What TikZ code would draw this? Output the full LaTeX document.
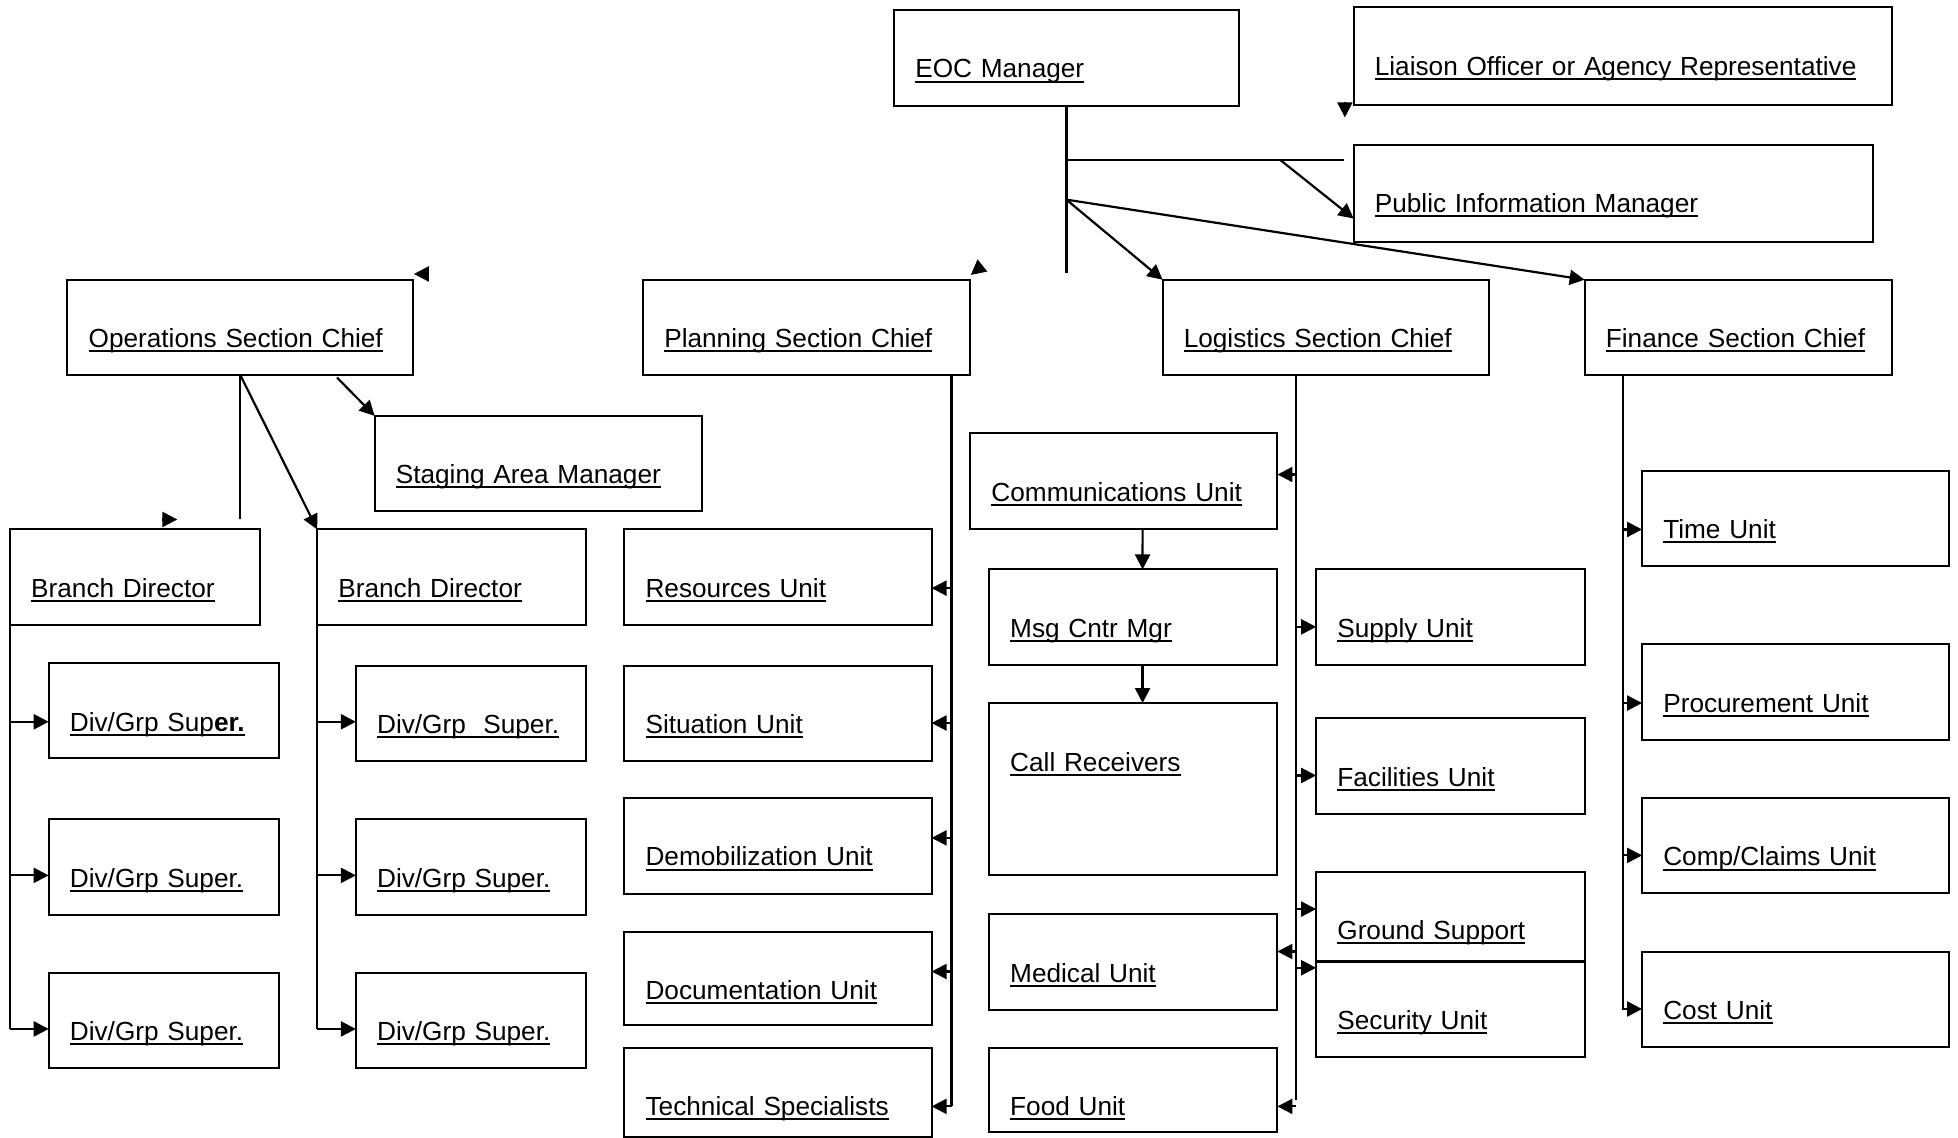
\documentclass[tikz,border=0pt]{standalone}
\usepackage{fontspec}
\setmainfont{Liberation Sans}
\usetikzlibrary{arrows.meta,calc}
\newsavebox{\ulsave}
\newcommand{\uln}[1]{\sbox{\ulsave}{#1}\rlap{\rule[-2.3pt]{\wd\ulsave}{1pt}}\usebox{\ulsave}}
\tikzset{
  orgbox/.style={draw, line width=1pt, anchor=north west, outer sep=0pt, inner xsep=10.6pt, inner ysep=0pt,
    align=left, text height=34pt, text depth=13.7pt, font=\fontsize{13.1pt}{15pt}\selectfont},
  link/.style={line width=1.1pt},
  arr/.style={link, -{Triangle[length=7.5pt,width=7.5pt]}}
}
\begin{document}
\begin{tikzpicture}[x=0.62435pt, y=-0.62435pt]
                \useasboundingbox (0,0) rectangle (1568,911);
                % top
                \node[orgbox, text width=151.1pt, text depth=14pt] (eoc) at (716,8) {\uln{EOC Manager}};
                \node[orgbox, text width=247.9pt, text depth=14.7pt] (liaison) at (1084,6) {\uln{Liaison Officer or Agency Representative}};
                \node[orgbox, text width=238.5pt, text depth=14.7pt] (pim) at (1084,116) {\uln{Public Information Manager}};
                % sections
                \node[orgbox, text width=151.7pt] (ops) at (54,224) {\uln{Operations Section Chief}};
                \node[orgbox, text width=142.4pt] (plan) at (515,224) {\uln{Planning Section Chief}};
                \node[orgbox, text width=141.8pt] (log) at (931,224) {\uln{Logistics Section Chief}};
                \node[orgbox, text width=132.4pt] (fin) at (1269,224) {\uln{Finance Section Chief}};
                % operations
                \node[orgbox, text width=142.4pt] (staging) at (300,333) {\uln{Staging Area Manager}};
                \node[orgbox, text width=103.7pt] (bd1) at (8,424) {\uln{Branch Director}};
                \node[orgbox, text width=113pt] (bd2) at (254,424) {\uln{Branch Director}};
                \node[orgbox, text width=93.7pt] (dg1a) at (39,531) {\uln{Div/Grp Sup\textbf{er.}}};
                \node[orgbox, text width=93.7pt] (dg1b) at (39,656) {\uln{Div/Grp Super.}};
                \node[orgbox, text width=93.7pt] (dg1c) at (39,779) {\uln{Div/Grp Super.}};
                \node[orgbox, text width=93.7pt] (dg2a) at (285,533) {\uln{Div/Grp\ \ Super.}};
                \node[orgbox, text width=93.7pt] (dg2b) at (285,656) {\uln{Div/Grp Super.}};
                \node[orgbox, text width=93.7pt] (dg2c) at (285,779) {\uln{Div/Grp Super.}};
                % planning
                \node[orgbox, text width=132.4pt] (res) at (500,424) {\uln{Resources Unit}};
                \node[orgbox, text width=132.4pt] (sit) at (500,533) {\uln{Situation Unit}};
                \node[orgbox, text width=132.4pt, text depth=14pt] (demob) at (500,639) {\uln{Demobilization Unit}};
                \node[orgbox, text width=132.4pt, text depth=12.8pt] (doc) at (500,746) {\uln{Documentation Unit}};
                \node[orgbox, text width=132.4pt, text depth=10.9pt] (tech) at (500,839) {\uln{Technical Specialists}};
                % logistics
                \node[orgbox, text width=132.4pt] (comm) at (777,347) {\uln{Communications Unit}};
                \node[orgbox, text width=123pt] (msg) at (792,456) {\uln{Msg Cntr Mgr}};
                \node[orgbox, text width=123pt, text depth=52.1pt] (call) at (792,563) {\uln{Call Receivers}};
                \node[orgbox, text width=123pt, text depth=14pt] (med) at (792,732) {\uln{Medical Unit}};
                \node[orgbox, text width=123pt, text depth=8.4pt] (food) at (792,839) {\uln{Food Unit}};
                \node[orgbox, text width=113pt] (supply) at (1054,456) {\uln{Supply Unit}};
                \node[orgbox, text width=113pt, text depth=14pt] (fac) at (1054,575) {\uln{Facilities Unit}};
                \node[orgbox, text width=113pt, text depth=10.9pt] (ground) at (1054,698) {\uln{Ground Support}};
                \node[orgbox, text width=113pt] (sec) at (1054,770) {\uln{Security Unit}};
                % finance
                \node[orgbox, text width=132.4pt] (time) at (1315,377) {\uln{Time Unit}};
                \node[orgbox, text width=132.4pt] (proc) at (1315,516) {\uln{Procurement Unit}};
                \node[orgbox, text width=132.4pt] (comp) at (1315,639) {\uln{Comp/Claims Unit}};
                \node[orgbox, text width=132.4pt] (cost) at (1315,762) {\uln{Cost Unit}};

                % EOC manager lines
                \coordinate (hub1) at ($(eoc.south)+(0,43)$);
                \coordinate (hub2) at ($(eoc.south)+(0,75)$);
                \draw[link] (eoc.south) -- ++(0,134);
                \draw[link] (hub1) -- ++(222,0);
                \draw[arr] ($(hub1)+(171,0)$) -- ($(pim.north west)+(0,59)$);
                \draw[arr] (hub2) -- (log.north west);
                \draw[arr] (hub2) -- (fin.north west);
                % loose arrow heads
                \draw[arr] ($(liaison.south west)+(-7,-2)$) -- ++(0,12);
                \draw[arr] ($(ops.north east)+(12.5,-4.6)$) -- ++(-12,0);
                \draw[arr] ($(plan.north east)+(9.7,-11.4)$) -- ($(plan.north east)+(0.4,-3.8)$);
                \draw[arr] ($(bd1.north west)+(122,-8)$) -- ++(12,0);

                % operations
                \draw[link] (ops.south) -- ++(0,115);
                \draw[arr] (ops.south) -- (bd2.north west);
                \draw[arr] ($(ops.south east)+(-61,2)$) -- (staging.north west);
                \foreach \n/\d in {dg1a/47,dg1b/45,dg1c/45,dg2a/45,dg2b/45,dg2c/45}
                    \coordinate (\n-in) at ($(\n.north west)+(0,\d)$);
                \draw[link] (bd1.south west) -- (bd1.south west |- dg1c-in);
                \draw[link] (bd2.south west) -- (bd2.south west |- dg2c-in);
                \foreach \n in {dg1a,dg1b,dg1c}
                    \draw[arr] (bd1.south west |- \n-in) -- (\n-in);
                \foreach \n in {dg2a,dg2b,dg2c}
                    \draw[arr] (bd2.south west |- \n-in) -- (\n-in);

                % planning
                \coordinate (pbus) at ($(plan.south east)+(-15,0)$);
                \foreach \n/\d in {res/47,sit/46,demob/32,doc/32,tech/47}
                    \coordinate (\n-in) at ($(\n.north east)+(0,\d)$);
                \draw[link] (pbus) -- (pbus |- tech-in);
                \foreach \n in {res,sit,demob,doc,tech}
                    \draw[arr] (pbus |- \n-in) -- (\n-in);

                % logistics
                \coordinate (lbus) at ($(log.south west)+(107,0)$);
                \foreach \n/\d/\a in {comm/33/east,med/30/east,food/47/east,supply/46/west,fac/46/west,ground/30/west,sec/5/west}
                    \coordinate (\n-in) at ($(\n.north \a)+(0,\d)$);
                \draw[link] (lbus) -- ($(lbus |- food-in)+(0,-5)$);
                \foreach \n in {comm,med,food,supply,fac,ground,sec}
                    \draw[arr] (lbus |- \n-in) -- (\n-in);
                \draw[arr] ($(comm.south)+(15,0)$) -- ($(msg.north)+(7.5,0)$);
                \draw[arr] ($(msg.south)+(7.5,0)$) -- ($(call.north)+(7.5,0)$);

                % finance
                \coordinate (fbus) at ($(fin.south west)+(31,0)$);
                \foreach \n/\d in {time/47,proc/47,comp/46,cost/46}
                    \coordinate (\n-in) at ($(\n.north west)+(0,\d)$);
                \draw[arr] (fbus) |- (cost-in);
                \foreach \n in {time,proc,comp}
                    \draw[arr] (fbus |- \n-in) -- (\n-in);
\end{tikzpicture}
\end{document}
